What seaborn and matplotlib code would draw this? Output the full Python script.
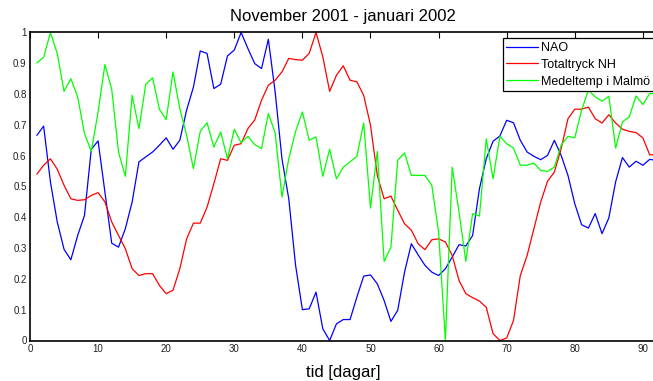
import numpy as np
import pandas as pd
import matplotlib
matplotlib.use('Agg')
import matplotlib.pyplot as plt
from matplotlib.ticker import FormatStrFormatter
import seaborn as sns

# Dagar (november 2001 - januari 2002)
dagar = list(range(1, 93))

nao = [0.666, 0.696, 0.515, 0.385, 0.296, 0.262, 0.341, 0.406, 0.621, 0.648,
       0.482, 0.316, 0.303, 0.363, 0.450, 0.580, 0.596, 0.612, 0.634, 0.658,
       0.621, 0.650, 0.748, 0.823, 0.940, 0.932, 0.818, 0.832, 0.924, 0.943,
       1.000, 0.948, 0.899, 0.883, 0.978, 0.807, 0.590, 0.460, 0.244, 0.100,
       0.103, 0.157, 0.038, 0.000, 0.054, 0.068, 0.068, 0.141, 0.209, 0.213,
       0.184, 0.130, 0.062, 0.098, 0.222, 0.314, 0.278, 0.244, 0.222, 0.211,
       0.233, 0.271, 0.311, 0.307, 0.341, 0.493, 0.590, 0.647, 0.664, 0.715,
       0.707, 0.650, 0.612, 0.598, 0.587, 0.601, 0.650, 0.601, 0.536, 0.444,
       0.376, 0.365, 0.412, 0.347, 0.398, 0.515, 0.594, 0.563, 0.582, 0.569,
       0.588, 0.585]

totaltryck = [0.540, 0.569, 0.590, 0.556, 0.504, 0.460, 0.455, 0.457, 0.471, 0.480,
              0.450, 0.385, 0.341, 0.298, 0.233, 0.211, 0.217, 0.217, 0.179, 0.152,
              0.163, 0.233, 0.330, 0.381, 0.381, 0.433, 0.509, 0.590, 0.585, 0.634,
              0.639, 0.688, 0.716, 0.780, 0.829, 0.845, 0.872, 0.916, 0.912, 0.910,
              0.932, 1.000, 0.921, 0.809, 0.861, 0.892, 0.845, 0.840, 0.796, 0.699,
              0.536, 0.460, 0.469, 0.423, 0.379, 0.358, 0.314, 0.295, 0.327, 0.330,
              0.320, 0.276, 0.195, 0.152, 0.139, 0.128, 0.108, 0.022, 0.000, 0.008,
              0.065, 0.211, 0.276, 0.363, 0.450, 0.517, 0.547, 0.623, 0.720, 0.751,
              0.751, 0.758, 0.720, 0.706, 0.733, 0.706, 0.686, 0.679, 0.675, 0.658,
              0.603, 0.603]

medeltemp = [0.901, 0.919, 1.000, 0.932, 0.809, 0.850, 0.791, 0.672, 0.614, 0.742,
             0.896, 0.816, 0.612, 0.533, 0.796, 0.688, 0.832, 0.853, 0.751, 0.717,
             0.872, 0.753, 0.666, 0.558, 0.679, 0.707, 0.628, 0.677, 0.590, 0.686,
             0.642, 0.663, 0.636, 0.623, 0.737, 0.674, 0.466, 0.590, 0.679, 0.742,
             0.650, 0.661, 0.533, 0.621, 0.525, 0.563, 0.580, 0.598, 0.706, 0.430,
             0.614, 0.257, 0.303, 0.585, 0.609, 0.536, 0.536, 0.536, 0.504, 0.352,
             0.000, 0.563, 0.417, 0.257, 0.412, 0.404, 0.655, 0.525, 0.663, 0.639,
             0.625, 0.569, 0.569, 0.576, 0.552, 0.549, 0.563, 0.634, 0.663, 0.658,
             0.748, 0.813, 0.791, 0.777, 0.793, 0.625, 0.710, 0.726, 0.794, 0.766,
             0.802, 0.802]

serier = ['NAO', 'Totaltryck NH', 'Medeltemp i Malmö']
farger = ['#0000ff', '#ff0000', '#00ff00']

df = pd.DataFrame({'dag': dagar * 3,
                   'varde': nao + totaltryck + medeltemp,
                   'serie': [serier[0]] * 92 + [serier[1]] * 92 + [serier[2]] * 92})

sns.set_style('white')
plt.rcParams['font.family'] = ['Liberation Sans', 'DejaVu Sans']
plt.rcParams['text.color'] = 'black'
plt.rcParams['axes.labelcolor'] = 'black'
plt.rcParams['xtick.direction'] = 'in'
plt.rcParams['ytick.direction'] = 'in'

fig = plt.figure(figsize=(6.53, 3.81), dpi=100)
# axlarna fortsatter utanfor bildens hogra kant (som i originalet)
ax = fig.add_axes([30 / 653, 40.5 / 381, 626.5 / 653, 308 / 381])

sns.lineplot(data=df, x='dag', y='varde', hue='serie', hue_order=serier,
             palette=farger, linewidth=0.9, ax=ax, legend=True)

ax.set_xlim(0, 92)
ax.set_ylim(0, 1)
ax.set_xticks(range(0, 100, 10))
ax.set_yticks(np.arange(0, 1.01, 0.1))
ax.yaxis.set_major_formatter(FormatStrFormatter('%g'))
ax.tick_params(axis='both', labelsize=7, length=4.5, width=0.8, colors='black',
               top=True, right=False, pad=2.5)
ax.tick_params(axis='both', labelcolor='#222222')
for s in ax.spines.values():
    s.set_color('black')
    s.set_linewidth(1.2)

ax.set_title('November 2001 - januari 2002', fontsize=12, pad=8, color='black')
ax.set_xlabel('tid [dagar]', fontsize=12, labelpad=8, color='black')
ax.set_ylabel('')

handles, labels = ax.get_legend_handles_labels()
leg = ax.legend(handles, labels, loc='upper left', bbox_to_anchor=(0.7545, 0.981),
                fontsize=9, frameon=True, fancybox=False, edgecolor='black',
                framealpha=1, handlelength=2.5, handletextpad=0.3,
                labelspacing=0.38, borderpad=0.3, borderaxespad=0)
leg.get_frame().set_linewidth(0.9)

fig.savefig('out.png', dpi=100)
